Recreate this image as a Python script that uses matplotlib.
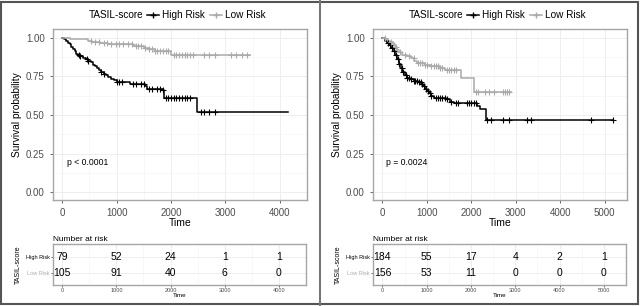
import numpy as np
import matplotlib.pyplot as plt
from matplotlib.lines import Line2D
from matplotlib.patches import Rectangle

plt.rcParams['font.family'] = ['Liberation Sans', 'DejaVu Sans']

W, H = 640, 306

HIGH_COL = '#000000'
LOW_COL = '#aaaaaa'

# ---- left panel data ----
l_hi_t = [0, 30, 60, 100, 140, 170, 200, 230, 260, 290, 330, 380, 430, 480, 520, 560, 600,
          640, 680, 720, 760, 800, 850, 900, 960, 1000, 1080, 1250, 1520, 1560, 1850, 1880, 2480]
l_hi_s = [1.00, 0.99, 0.975, 0.965, 0.955, 0.94, 0.925, 0.91, 0.895, 0.885, 0.88, 0.87, 0.86,
          0.85, 0.84, 0.825, 0.815, 0.80, 0.79, 0.78, 0.765, 0.755, 0.745, 0.735, 0.725, 0.715,
          0.71, 0.70, 0.685, 0.67, 0.66, 0.61, 0.52]
l_hi_end = 4150
l_hi_cens = [300, 330, 450, 480, 720, 760, 1000, 1050, 1100, 1300, 1350, 1450, 1500, 1600, 1650,
             1750, 1800, 1850, 1900, 1950, 2000, 2050, 2100, 2150, 2200, 2250, 2300, 2350, 2550,
             2600, 2700, 2800]

l_lo_t = [0, 60, 150, 480, 540, 700, 850, 1150, 1300, 1500, 1600, 1700, 2000, 2080]
l_lo_s = [1.00, 0.995, 0.99, 0.98, 0.97, 0.965, 0.96, 0.955, 0.945, 0.935, 0.925, 0.915, 0.89, 0.885]
l_lo_end = 3460
l_lo_cens = [520, 600, 680, 760, 820, 900, 980, 1050, 1120, 1200, 1280, 1350, 1400, 1450, 1530,
             1600, 1650, 1700, 1750, 1800, 1850, 1900, 1950, 2050, 2100, 2150, 2200, 2250, 2300,
             2350, 2400, 2600, 2700, 2800, 3100, 3200, 3300, 3400]

l_ticks = [0, 1000, 2000, 3000, 4000]
l_risk_hi = [79, 52, 24, 1, 1]
l_risk_lo = [105, 91, 40, 6, 0]
l_pval = 'p < 0.0001'

# ---- right panel data ----
r_hi_t = [0, 50, 100, 150, 200, 250, 290, 330, 370, 410, 450, 500, 550, 620, 700, 800, 870, 920,
          960, 1000, 1050, 1100, 1150, 1420, 1520, 1600, 2130, 2200, 2320]
r_hi_s = [1.00, 0.98, 0.965, 0.95, 0.93, 0.91, 0.89, 0.86, 0.83, 0.80, 0.775, 0.755, 0.74, 0.73,
          0.72, 0.71, 0.70, 0.685, 0.67, 0.655, 0.64, 0.625, 0.61, 0.60, 0.585, 0.575, 0.555,
          0.535, 0.47]
r_hi_end = 5190
r_hi_cens = [120, 160, 220, 260, 300, 340, 380, 430, 470, 520, 560, 600, 650, 700, 740, 780, 820,
             860, 900, 940, 980, 1020, 1060, 1100, 1200, 1250, 1300, 1350, 1400, 1450, 1550, 1650,
             1700, 1900, 1950, 2000, 2050, 2100, 2350, 2450, 2700, 2850, 3250, 3350, 4680, 5190]

r_lo_t = [0, 60, 120, 180, 230, 280, 330, 380, 450, 550, 650, 720, 780, 950, 1100, 1300, 1400,
          1760, 2060]
r_lo_s = [1.00, 0.99, 0.98, 0.97, 0.955, 0.94, 0.92, 0.905, 0.89, 0.88, 0.87, 0.85, 0.835, 0.825,
          0.815, 0.80, 0.79, 0.74, 0.645]
r_lo_end = 2880
r_lo_cens = [50, 200, 300, 400, 500, 600, 700, 800, 850, 900, 950, 1000, 1100, 1150, 1200, 1250,
             1300, 1350, 1450, 1500, 1550, 1600, 1650, 2100, 2150, 2300, 2400, 2500, 2700, 2750,
             2800, 2850]

r_ticks = [0, 1000, 2000, 3000, 4000, 5000]
r_risk_hi = [184, 55, 17, 4, 2, 1]
r_risk_lo = [156, 53, 11, 0, 0, 0]
r_pval = 'p = 0.0024'

groups = ['High Risk', 'Low Risk']


def box(l, t, r, b):
    return [l / W, 1 - b / H, (r - l) / W, (b - t) / H]


def surv_at(times, surv, x):
    idx = np.searchsorted(times, x, side='right') - 1
    return np.array(surv)[idx]


def style_axes(ax):
    ax.set_facecolor('white')
    for sp in ax.spines.values():
        sp.set_color('#a6a6a6')
        sp.set_linewidth(1.0)
    ax.tick_params(colors='#4d4d4d', length=2.5, width=0.6, labelsize=7)
    ax.grid(True, which='major', color='#ebebeb', lw=0.6)
    ax.grid(True, which='minor', color='#f4f4f4', lw=0.4)
    ax.set_axisbelow(True)


def km_panel(fig, x0, xlim, ticks, hi, lo, pval, risk_hi, risk_lo):
    ax = fig.add_axes(box(x0 + 53, 29, x0 + 307, 200))
    style_axes(ax)
    for (t, s, end, cens), col in zip([hi, lo], [HIGH_COL, LOW_COL]):
        tt = list(t) + [end]
        ss = list(s) + [s[-1]]
        ax.step(tt, ss, where='post', color=col, lw=1.1, zorder=3)
        ax.plot(cens, surv_at(t, s, np.array(cens)), ls='none', marker='+',
                ms=4, mew=0.8, color=col, zorder=4)
    ax.set_xlim(*xlim)
    ax.set_ylim(-0.05, 1.055)
    ax.set_xticks(ticks)
    ax.set_xticks([v + 500 for v in ticks], minor=True)
    ax.set_yticks([0, 0.25, 0.5, 0.75, 1.0])
    ax.set_yticklabels(['0.00', '0.25', '0.50', '0.75', '1.00'])
    ax.set_yticks([0.125, 0.375, 0.625, 0.875], minor=True)
    ax.tick_params(which='minor', length=0)
    ax.set_xlabel('Time', fontsize=7.5, labelpad=0)
    ax.set_ylabel('Survival probability', fontsize=7.3, labelpad=3)
    ax.text(85, 0.19, pval, fontsize=6.2, ha='left', va='center')

    # legend
    fig.text((x0 + 89) / W, 1 - 15 / H, 'TASIL-score', fontsize=7.2, va='center', ha='left')
    handles = [Line2D([], [], color=HIGH_COL, lw=1.1, marker='+', ms=4),
               Line2D([], [], color=LOW_COL, lw=1.1, marker='+', ms=4)]
    fig.legend(handles, groups, loc='center left',
               bbox_to_anchor=((x0 + 147) / W, 1 - 15 / H), ncol=2, frameon=False,
               fontsize=7.2, handlelength=1.2, handletextpad=0.3, columnspacing=0.5,
               borderpad=0, borderaxespad=0)

    # risk table
    tb = fig.add_axes(box(x0 + 53, 244, x0 + 306, 285))
    style_axes(tb)
    tb.set_xlim(*xlim)
    tb.set_ylim(1.75, -0.8125)
    tb.set_xticks(ticks)
    tb.set_xticks([v + 500 for v in ticks], minor=True)
    tb.set_yticks([0, 1])
    tb.set_yticklabels(groups)
    tb.grid(True, which='minor', axis='y', color='white')
    tb.tick_params(labelsize=4, length=1.5, pad=1)
    tb.tick_params(which='minor', length=0)
    for lab, col in zip(tb.get_yticklabels(), [HIGH_COL, LOW_COL]):
        lab.set_color(col)
    for row, vals in enumerate([risk_hi, risk_lo]):
        for t, v in zip(ticks, vals):
            tb.text(t, row, str(v), fontsize=7.5, ha='center', va='center', color='black')
    tb.set_xlabel('Time', fontsize=4.5, labelpad=0)
    tb.set_ylabel('TASIL-score', fontsize=5, labelpad=3)
    tb.set_title('Number at risk', fontsize=6, loc='left', pad=2)


fig = plt.figure(figsize=(W / 100, H / 100), dpi=100)

km_panel(fig, 0, (-170, 4160), l_ticks,
         (l_hi_t, l_hi_s, l_hi_end, l_hi_cens), (l_lo_t, l_lo_s, l_lo_end, l_lo_cens),
         l_pval, l_risk_hi, l_risk_lo)
km_panel(fig, 320, (-213, 5190), r_ticks,
         (r_hi_t, r_hi_s, r_hi_end, r_hi_cens), (r_lo_t, r_lo_s, r_lo_end, r_lo_cens),
         r_pval, r_risk_hi, r_risk_lo)

# panel frames
fig.patches.append(Rectangle((1 / W, 2 / H), 637 / W, 302 / H, transform=fig.transFigure,
                             fill=False, ec='#555555', lw=1.5))
fig.lines.append(Line2D([319.5 / W, 319.5 / W], [0, 1], transform=fig.transFigure,
                        color='#777777', lw=1.5))

fig.savefig('out.png', dpi=100)
